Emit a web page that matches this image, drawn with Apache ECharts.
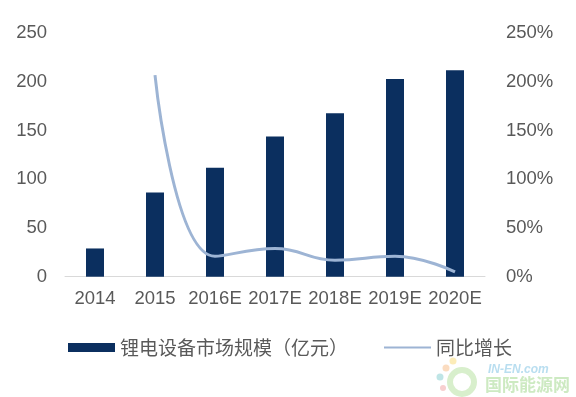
<!DOCTYPE html>
<html><head><meta charset="utf-8">
<script src="https://cdn.jsdelivr.net/npm/echarts@6/dist/echarts.min.js"></script>
<style>html,body{margin:0;padding:0;background:#fff}#c{width:576px;height:397px}</style>
</head><body><div id="c"></div>
<script>
const categories = ['2014','2015','2016E','2017E','2018E','2019E','2020E'];
const marketSize = [29, 86.5, 112, 144, 168, 203, 212];
const yoyGrowth = [null, 207, 21, 29, 17, 21, 5];
const leftTicks = [0, 50, 100, 150, 200, 250];
const seriesNames = ['锂电设备市场规模（亿元）', '同比增长'];

const chart = echarts.init(document.getElementById('c'), null, {renderer: 'canvas'});
const labelFont = {color: '#595959', fontSize: 18.5, fontFamily: 'Liberation Sans, Arial, sans-serif'};
chart.setOption({
  animation: false,
  backgroundColor: '#fff',
  grid: {left: 65, right: 91, top: 33.3, bottom: 120.3, containLabel: false},
  legend: {
    left: 63, top: 333, itemWidth: 47, itemHeight: 9, itemGap: 35,
    textStyle: {color: '#595959', fontSize: 19, fontFamily: 'Noto Sans CJK SC, sans-serif'},
    data: [{name: seriesNames[0], icon: 'rect'}, {name: seriesNames[1], itemStyle: {opacity: 0}}]
  },
  xAxis: {
    type: 'category', data: categories,
    axisLine: {lineStyle: {color: '#d9d9d9', width: 1}},
    axisTick: {show: false},
    axisLabel: Object.assign({margin: 13, interval: 0}, labelFont)
  },
  yAxis: [
    {type: 'value', min: leftTicks[0], max: leftTicks[leftTicks.length-1], interval: 50,
     splitLine: {show: false}, axisLine: {show: false}, axisTick: {show: false},
     axisLabel: Object.assign({margin: 18}, labelFont)},
    {type: 'value', min: 0, max: 250, interval: 50, position: 'right',
     splitLine: {show: false}, axisLine: {show: false}, axisTick: {show: false},
     axisLabel: Object.assign({margin: 21, formatter: '{value}%'}, labelFont)}
  ],
  series: [
    {name: seriesNames[0], type: 'bar', data: marketSize, barWidth: 18, yAxisIndex: 0,
     itemStyle: {color: '#0b2f5f'}},
    {name: seriesNames[1], type: 'line', data: yoyGrowth, yAxisIndex: 1, smooth: 0.45,
     symbol: 'none', connectNulls: false,
     lineStyle: {color: '#9db4d4', width: 3}, itemStyle: {color: '#9db4d4'}}
  ],
  graphic: [
    {type: 'ring', shape: {cx: 462, cy: 382, r: 15, r0: 9}, style: {fill: '#d8efcc'}, silent: true},
    {type: 'circle', shape: {cx: 446, cy: 368, r: 3.5}, style: {fill: '#fbdcc0'}, silent: true},
    {type: 'circle', shape: {cx: 453, cy: 361, r: 3.5}, style: {fill: '#fcecb8'}, silent: true},
    {type: 'circle', shape: {cx: 440, cy: 377, r: 3.5}, style: {fill: '#bfe5e6'}, silent: true},
    {type: 'circle', shape: {cx: 443, cy: 388, r: 3}, style: {fill: '#f8cfcf'}, silent: true},
    {type: 'text', left: 488, top: 364, style: {text: 'IN-EN.com', fill: '#b9def0', font: 'italic bold 12px Liberation Sans, Arial, sans-serif'}, silent: true},
    {type: 'text', left: 485, top: 376, style: {text: '国际能源网', fill: '#cdeac2', font: 'bold 17px Noto Sans CJK SC, sans-serif'}, silent: true}
  ]
});
</script></body></html>
